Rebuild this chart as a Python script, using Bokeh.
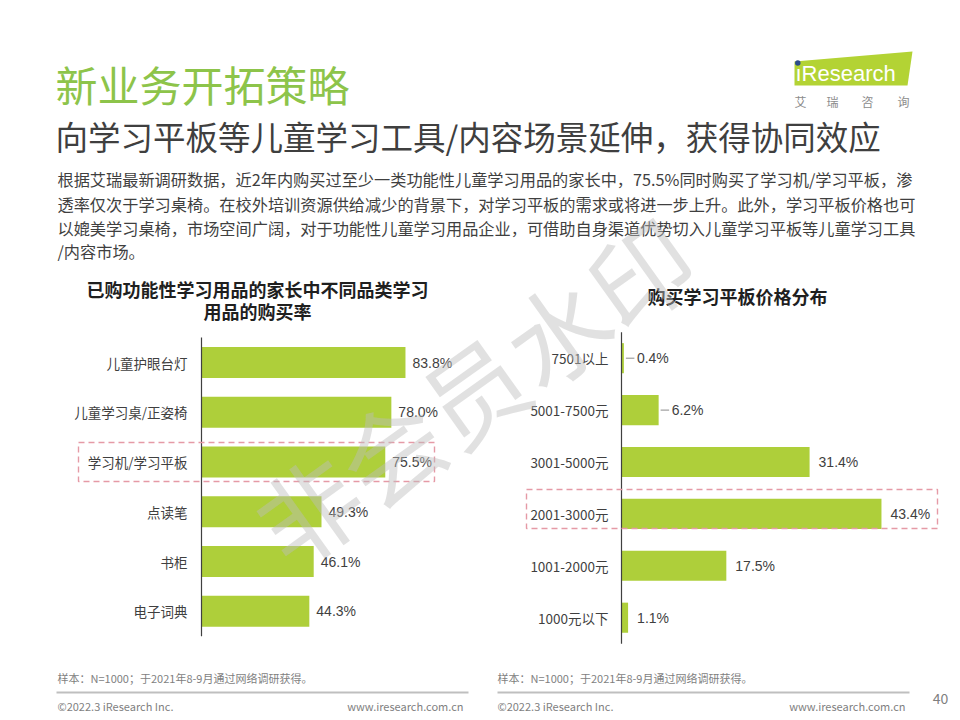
from bokeh.plotting import figure
from bokeh.models import Range1d
from bokeh.core.properties import value
from bokeh.embed import file_html
from bokeh.resources import INLINE

# ---------------- data ----------------
page_title = "新业务开拓策略"
page_subtitle = "向学习平板等儿童学习工具/内容场景延伸，获得协同效应"
body_lines = [
    "根据艾瑞最新调研数据，近2年内购买过至少一类功能性儿童学习用品的家长中，75.5%同时购买了学习机/学习平板，渗",
    "透率仅次于学习桌椅。在校外培训资源供给减少的背景下，对学习平板的需求或将进一步上升。此外，学习平板价格也可",
    "以媲美学习桌椅，市场空间广阔，对于功能性儿童学习用品企业，可借助自身渠道优势切入儿童学习平板等儿童学习工具",
    "/内容市场。",
]

left_title = ["已购功能性学习用品的家长中不同品类学习", "用品的购买率"]
left_categories = ["儿童护眼台灯", "儿童学习桌/正姿椅", "学习机/学习平板", "点读笔", "书柜", "电子词典"]
left_values = [83.8, 78.0, 75.5, 49.3, 46.1, 44.3]

right_title = "购买学习平板价格分布"
right_categories = ["7501以上", "5001-7500元", "3001-5000元", "2001-3000元", "1001-2000元", "1000元以下"]
right_values = [0.4, 6.2, 31.4, 43.4, 17.5, 1.1]
right_leader_categories = ["7501以上", "5001-7500元"]

note_text = "样本：N=1000；于2021年8-9月通过网络调研获得。"
copyright_text = "©2022.3 iResearch Inc."
site_text = "www.iresearch.com.cn"
page_number = "40"
logo_text = "ıResearch"
logo_cn = ["艾", "瑞", "咨", "询"]
watermark_text = "非会员水印"

# ---------------- style ----------------
CJK = value("Noto Sans CJK SC")
LATIN = value("Liberation Sans")
GREEN_BAR = "#AECF3A"
GREEN_TITLE = "#8DC44A"
DARK = "#3F3F3F"
GRAY = "#7F7F7F"
PINK = "#E59AA6"

X0, X1, Y0, Y1 = 0, 952, 0, 712
p = figure(width=X1 - X0, height=Y1 - Y0,
           x_range=Range1d(X0, X1), y_range=Range1d(Y1, Y0),
           output_backend="svg", toolbar_location=None, min_border=0,
           x_axis_location=None, y_axis_location=None, title=None)
p.grid.visible = False
p.outline_line_color = None
p.background_fill_color = "white"
p.border_fill_color = "white"


def fs(px):
    return value(f"{px}px")


# ---------------- header ----------------
p.text(x=[55], y=[83], text=[page_title], text_font=CJK, text_font_size=fs(42),
       text_color=GREEN_TITLE, text_baseline="middle", text_align="left")
p.text(x=[55], y=[135], text=[page_subtitle], text_font=CJK, text_font_size=fs(32.5),
       text_color=DARK, text_baseline="middle", text_align="left")
p.text(x=[57] * len(body_lines), y=[178, 203, 227, 250][:len(body_lines)], text=body_lines,
       text_font=CJK, text_font_size=fs(16.2), text_color=DARK,
       text_baseline="middle", text_align="left")

# logo
p.patch(x=[794, 912, 907, 794], y=[61, 51, 85, 85], color="#B3D334", line_color=None)
p.text(x=[795], y=[73], text=[logo_text], text_font=LATIN, text_font_size=fs(22),
       text_color="white", text_baseline="middle", text_align="left")
p.scatter(x=[797.3], y=[62.5], size=5.5, color="#2B4C8C", line_color=None)
p.text(x=[800, 832, 867, 903], y=[101] * 4, text=logo_cn, text_font=CJK,
       text_font_size=fs(12), text_color="#8C8C8C", text_baseline="middle",
       text_align="center")

# ---------------- charts ----------------
ranges_x = {}
ranges_y = {}


def add_chart(name, cats, vals, axis_px, px_per_unit, top_px, step_px, bar_frac,
              label_gap, cat_gap, leaders=()):
    ranges_x[name] = Range1d((X0 - axis_px) / px_per_unit, (X1 - axis_px) / px_per_unit)
    ranges_y[name] = Range1d((Y1 - top_px) / step_px, (Y0 - top_px) / step_px)
    return dict(name=name, cats=cats, vals=vals, k=px_per_unit, frac=bar_frac,
                gap=label_gap, cgap=cat_gap, leaders=leaders)


charts = [
    add_chart("L", left_categories, left_values, 201, 2.434, 362, 49.76, 0.62, 7, 14),
    add_chart("R", right_categories, right_values, 621, 5.99, 357.7, 51.9, 0.58, 9, 13,
              right_leader_categories),
]
p.extra_x_ranges = ranges_x
p.extra_y_ranges = ranges_y

for c in charts:
    n = c["name"]
    idx = list(range(len(c["cats"])))
    kw = dict(x_range_name=n, y_range_name=n)
    p.hbar(y=idx, left=0, right=c["vals"], height=c["frac"], color=GREEN_BAR,
           line_color=None, **kw)
    p.segment(x0=[0], y0=[-0.5], x1=[0], y1=[len(idx) - 0.5], line_color="#404040",
              line_width=1.2, **kw)
    p.text(x=[0] * len(idx), y=idx, text=c["cats"], x_offset=-c["cgap"],
           text_font=CJK, text_font_size=fs(13.5), text_color=DARK,
           text_baseline="middle", text_align="right", **kw)
    offs = []
    for cat, v in zip(c["cats"], c["vals"]):
        if cat in c["leaders"]:
            offs.append(13)
            p.segment(x0=[v + 2.0 / c["k"]], x1=[v + 10.5 / c["k"]],
                      y0=[c["cats"].index(cat)], y1=[c["cats"].index(cat)],
                      line_color="#8C8C8C", line_width=1, **kw)
        else:
            offs.append(c["gap"])
    p.text(x=c["vals"], y=idx, text=[f"{v:.1f}%" for v in c["vals"]], x_offset=offs,
           text_font=LATIN, text_font_size=fs(14), text_color=DARK,
           text_baseline="middle", text_align="left", **kw)

# chart titles
p.text(x=[257, 257], y=[288, 310], text=left_title, text_font=CJK, text_font_size=fs(18),
       text_font_style="bold", text_color="#1F1F1F", text_baseline="middle",
       text_align="center")
p.text(x=[737], y=[295], text=[right_title], text_font=CJK, text_font_size=fs(18),
       text_font_style="bold", text_color="#1F1F1F", text_baseline="middle",
       text_align="center")

# highlight boxes
p.quad(left=[78, 526], right=[434, 937], top=[442, 489], bottom=[481, 528],
       fill_alpha=0, line_color=PINK, line_width=1.4, line_dash="6 4")

# ---------------- footer ----------------
p.text(x=[57, 497], y=[677, 677], text=[note_text] * 2, text_font=CJK,
       text_font_size=fs(11), text_color=GRAY, text_baseline="middle", text_align="left")
p.segment(x0=[56, 497], x1=[468, 909], y0=[692, 692], y1=[692, 692],
          line_color="#BFBFBF", line_width=2)
p.text(x=[57, 497], y=[705, 705], text=[copyright_text] * 2, text_font=CJK,
       text_font_size=fs(11), text_color=GRAY, text_baseline="middle", text_align="left")
p.text(x=[463, 905], y=[705, 705], text=[site_text] * 2, text_font=CJK,
       text_font_size=fs(11), text_color=GRAY, text_baseline="middle", text_align="right")
p.text(x=[940], y=[698], text=[page_number], text_font=CJK, text_font_size=fs(14),
       text_color=GRAY, text_baseline="middle", text_align="center")

# watermark
p.text(x=[472], y=[388], text=[watermark_text], angle=0.62, text_font=CJK,
       text_font_size=fs(102), text_color="#BDBDBD", text_alpha=0.45,
       text_baseline="middle", text_align="center")

with open("out.html", "w") as f:
    f.write(file_html(p, INLINE))
